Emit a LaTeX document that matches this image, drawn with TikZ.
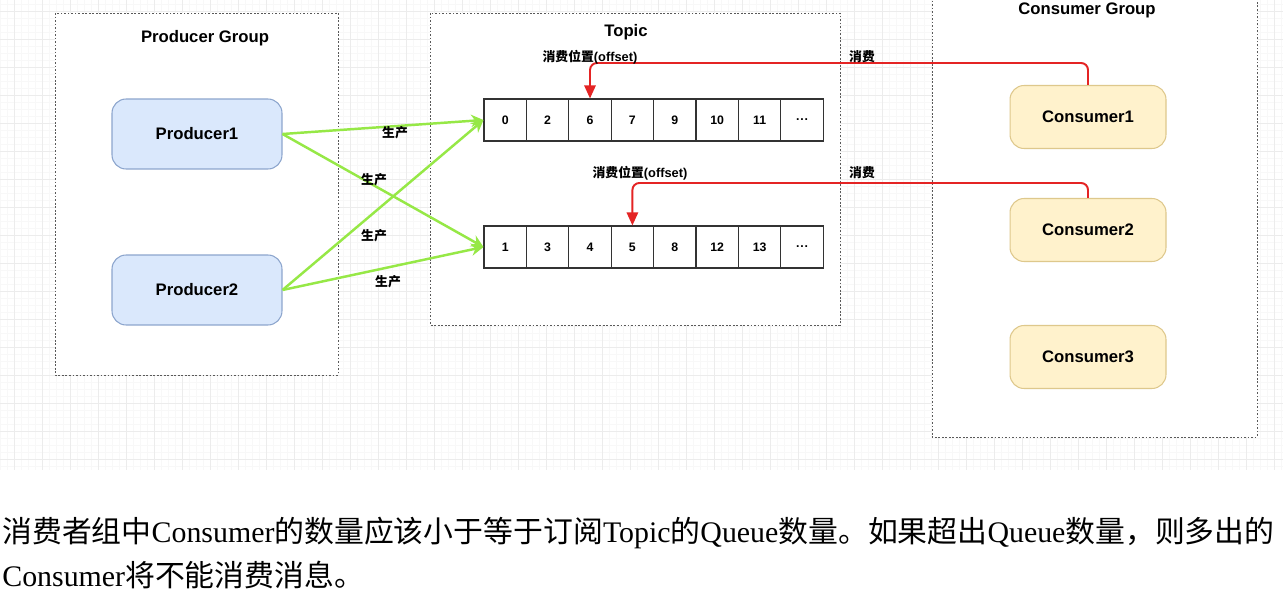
\documentclass[tikz,border=0pt]{standalone}
\usepackage{fontspec}
\setmainfont{Liberation Serif}
\setsansfont{Liberation Sans}
\newfontfamily\cjk{Noto Sans CJK SC}
\usetikzlibrary{arrows.meta}
\definecolor{prodBlue}{RGB}{218, 232, 252}
\definecolor{prodEdge}{RGB}{140, 165, 205}
\definecolor{consYellow}{RGB}{255, 242, 204}
\definecolor{consEdge}{RGB}{222, 200, 140}
\definecolor{produceGreen}{RGB}{150, 232, 70}
\definecolor{consumeRed}{RGB}{228, 36, 36}
\definecolor{gridMinor}{RGB}{248, 248, 248}
\definecolor{gridMajor}{RGB}{236, 236, 236}
\newcommand{\zh}[1]{{\cjk #1}}
\newcommand{\celldots}{.\kern0.5pt.\kern0.5pt.}

\tikzset{
  groupbox/.style={draw=black!65, fill=white, line width=0.5pt, dash pattern=on 1pt off 1pt},
  grouptitle/.style={font=\sffamily\bfseries\fontsize{9.5}{11}\selectfont},
  producer/.style={draw=prodEdge, fill=prodBlue, rounded corners=8pt, line width=0.6pt,
    minimum width=3.4cm, minimum height=1.4cm, font=\sffamily\bfseries\fontsize{9.5}{11}\selectfont},
  consumer/.style={draw=consEdge, fill=consYellow, rounded corners=8pt, line width=0.6pt,
    minimum width=3.12cm, minimum height=1.26cm, font=\sffamily\bfseries\fontsize{9.5}{11}\selectfont},
  cell/.style={draw=black!80, line width=0.6pt, minimum width=0.848cm, minimum height=0.84cm,
    inner sep=0pt, font=\sffamily\bfseries\fontsize{7}{8}\selectfont},
  tag/.style={inner sep=1pt, font=\sffamily\bfseries\fontsize{7.3}{8}\selectfont},
  produce/.style={draw=produceGreen, line width=1.4pt, -{Stealth[length=7pt,width=7pt]}},
  consume/.style={draw=consumeRed, line width=1.1pt, rounded corners=4pt, -{Triangle[length=7.5pt,width=6.5pt]}},
  note/.style={anchor=west, inner sep=0pt, font=\fontsize{17}{20}\selectfont}
}

\begin{document}
\begin{tikzpicture}[x=0.02cm, y=-0.02cm]
  \useasboundingbox (0,0) rectangle (1283,591);
  \clip (0,0) rectangle (1283,591);
  \fill[white] (0,0) rectangle (1283,591);

  % canvas grid behind the diagram
  \foreach \gx in {0,7,...,1283} \draw[gridMinor, line width=0.4pt] (\gx,0) -- (\gx,470);
  \foreach \gy in {4,11,...,470} \draw[gridMinor, line width=0.4pt] (0,\gy) -- (1283,\gy);
  \foreach \gx in {14,42,...,1283} \draw[gridMajor, line width=0.5pt] (\gx,0) -- (\gx,470);
  \foreach \gy in {11,39,...,470} \draw[gridMajor, line width=0.5pt] (0,\gy) -- (1283,\gy);

  % the three groups
  \draw[groupbox] (55,13) rectangle (338,375);
  \draw[groupbox] (430,13) rectangle (840,325);
  \draw[groupbox] (932,-10) rectangle (1257,437);
  \node[grouptitle] (prodtitle) at (205,38) {Producer Group};
  \node[grouptitle] (topictitle) at (626,32) {Topic};
  \node[grouptitle] (constitle) at (1087,10) {Consumer Group};

  % producers
  \node[producer] (p1) at (197,134) {Producer1};
  \node[producer] (p2) at (197,290) {Producer2};

  % two queues of the topic
  \foreach \v [count=\i] in {0,2,6,7,9,10,11,\celldots}
    \node[cell] (qa\i) at ({484+42.4*(\i-0.5)},120) {\v};
  \foreach \v [count=\i] in {1,3,4,5,8,12,13,\celldots}
    \node[cell] (qb\i) at ({484+42.4*(\i-0.5)},247) {\v};

  % consumers
  \node[consumer] (c1) at (1088,117) {Consumer1};
  \node[consumer] (c2) at (1088,230) {Consumer2};
  \node[consumer] (c3) at (1088,357) {Consumer3};

  % produce: every producer writes to both queues
  \draw[produce] (p1.east) -- (qa1.west);
  \draw[produce] (p1.east) -- (qb1.west);
  \draw[produce] (p2.east) -- (qa1.west);
  \draw[produce] (p2.east) -- (qb1.west);
  \node[tag] (pa) at (395,133) {\zh{生产}};
  \node[tag] (pb) at (374,180) {\zh{生产}};
  \node[tag] (pc) at (374,236) {\zh{生产}};
  \node[tag] (pd) at (388,282) {\zh{生产}};

  % consume: offsets pointed at by the consumers
  \draw[consume] (c1.north) -- ++(0,-22) -| (qa3.north);
  \draw[consume] (c2.north) -- ++(0,-15) -| (qb4.north);
  \node[tag] (offa) at (590,57) {\zh{消费位置}(offset)};
  \node[tag] (offb) at (640,173) {\zh{消费位置}(offset)};
  \node[tag] (ca) at (862,57) {\zh{消费}};
  \node[tag] (cb) at (862,173) {\zh{消费}};

  % note under the diagram
  \node[note] (note1) at (2,533) {\zh{消费者组中}Consumer\zh{的数量应该小于等于订阅}Topic\zh{的}Queue\zh{数量。如果超出}Queue\zh{数量，则多出的}};
  \node[note] (note2) at (2,575) {Consumer\zh{将不能消费消息。}};
\end{tikzpicture}
\end{document}
